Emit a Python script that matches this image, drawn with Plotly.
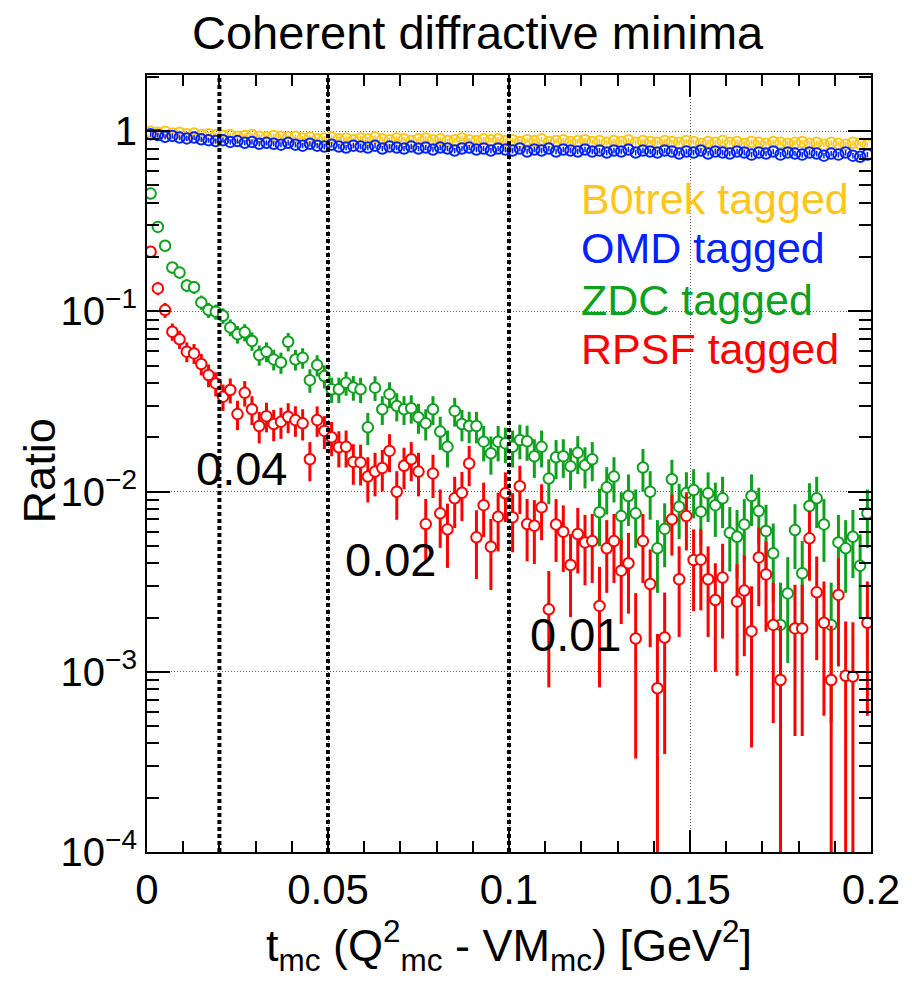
import math
import plotly.graph_objects as go

# ---------------- data ----------------
t_lo, t_hi, n_bins = 0.0, 0.2, 100
bin_w = (t_hi - t_lo) / n_bins
t_centers = [round(t_lo + (i + 0.5) * bin_w, 4) for i in range(n_bins)]

b0_ratio = [
    0.99, 0.98, 0.99, 0.97, 0.98, 0.96, 0.97, 0.95, 0.96, 0.95,
    0.94, 0.95, 0.93, 0.94, 0.95, 0.93, 0.92, 0.94, 0.93, 0.92,
    0.93, 0.91, 0.92, 0.90, 0.91, 0.92, 0.90, 0.91, 0.89, 0.91,
    0.90, 0.92, 0.90, 0.89, 0.91, 0.90, 0.88, 0.90, 0.91, 0.89,
    0.90, 0.88, 0.89, 0.91, 0.89, 0.88, 0.90, 0.89, 0.90, 0.88,
    0.89, 0.87, 0.89, 0.88, 0.90, 0.87, 0.88, 0.89, 0.87, 0.88,
    0.89, 0.87, 0.88, 0.86, 0.88, 0.87, 0.89, 0.86, 0.88, 0.87,
    0.86, 0.88, 0.87, 0.86, 0.88, 0.87, 0.85, 0.87, 0.86, 0.88,
    0.86, 0.87, 0.85, 0.87, 0.86, 0.85, 0.87, 0.86, 0.85, 0.86,
    0.87, 0.85, 0.86, 0.84, 0.86, 0.85, 0.84, 0.86, 0.85, 0.84,
]
b0_err = [
    0.030, 0.030, 0.030, 0.030, 0.030, 0.030, 0.030, 0.030, 0.030, 0.030,
    0.030, 0.030, 0.029, 0.029, 0.029, 0.029, 0.029, 0.029, 0.029, 0.029,
    0.029, 0.029, 0.029, 0.029, 0.029, 0.029, 0.029, 0.029, 0.029, 0.029,
    0.029, 0.029, 0.029, 0.029, 0.029, 0.029, 0.029, 0.029, 0.029, 0.029,
    0.029, 0.029, 0.029, 0.029, 0.029, 0.029, 0.029, 0.029, 0.029, 0.029,
    0.029, 0.028, 0.029, 0.029, 0.029, 0.028, 0.029, 0.029, 0.028, 0.029,
    0.029, 0.028, 0.029, 0.028, 0.029, 0.028, 0.029, 0.028, 0.029, 0.028,
    0.028, 0.029, 0.028, 0.028, 0.029, 0.028, 0.028, 0.028, 0.028, 0.029,
    0.028, 0.028, 0.028, 0.028, 0.028, 0.028, 0.028, 0.028, 0.028, 0.028,
    0.028, 0.028, 0.028, 0.028, 0.028, 0.028, 0.028, 0.028, 0.028, 0.028,
]

omd_ratio = [
    0.96, 0.95, 0.93, 0.94, 0.92, 0.91, 0.92, 0.90, 0.89, 0.88,
    0.89, 0.87, 0.88, 0.86, 0.87, 0.85, 0.86, 0.85, 0.84, 0.86,
    0.84, 0.83, 0.85, 0.83, 0.82, 0.84, 0.82, 0.81, 0.83, 0.82,
    0.81, 0.83, 0.80, 0.82, 0.81, 0.80, 0.82, 0.80, 0.81, 0.79,
    0.81, 0.80, 0.78, 0.80, 0.81, 0.79, 0.80, 0.78, 0.80, 0.79,
    0.78, 0.80, 0.77, 0.79, 0.78, 0.80, 0.77, 0.79, 0.78, 0.77,
    0.79, 0.77, 0.78, 0.76, 0.78, 0.77, 0.79, 0.76, 0.78, 0.77,
    0.76, 0.78, 0.77, 0.75, 0.77, 0.76, 0.78, 0.75, 0.77, 0.76,
    0.75, 0.77, 0.76, 0.74, 0.76, 0.75, 0.77, 0.74, 0.76, 0.75,
    0.74, 0.76, 0.75, 0.73, 0.75, 0.74, 0.76, 0.73, 0.72, 0.74,
]
omd_err = [
    0.030, 0.030, 0.029, 0.029, 0.029, 0.029, 0.029, 0.029, 0.029, 0.029,
    0.029, 0.028, 0.029, 0.028, 0.028, 0.028, 0.028, 0.028, 0.028, 0.028,
    0.028, 0.028, 0.028, 0.028, 0.028, 0.028, 0.028, 0.027, 0.028, 0.028,
    0.027, 0.028, 0.027, 0.028, 0.027, 0.027, 0.028, 0.027, 0.027, 0.027,
    0.027, 0.027, 0.027, 0.027, 0.027, 0.027, 0.027, 0.027, 0.027, 0.027,
    0.027, 0.027, 0.027, 0.027, 0.027, 0.027, 0.027, 0.027, 0.027, 0.027,
    0.027, 0.027, 0.027, 0.027, 0.027, 0.027, 0.027, 0.027, 0.027, 0.027,
    0.027, 0.027, 0.027, 0.026, 0.027, 0.027, 0.027, 0.026, 0.027, 0.027,
    0.026, 0.027, 0.027, 0.026, 0.027, 0.026, 0.027, 0.026, 0.027, 0.026,
    0.026, 0.027, 0.026, 0.026, 0.026, 0.026, 0.027, 0.026, 0.026, 0.026,
]

zdc_ratio = [
    0.45, 0.294, 0.231, 0.175, 0.164, 0.139, 0.136, 0.112, 0.1016, 0.0994,
    0.0945, 0.0814, 0.0745, 0.0764, 0.0684, 0.0572, 0.0597, 0.0541, 0.052, 0.0678,
    0.054, 0.0552, 0.0415, 0.0503, 0.0437, 0.0369, 0.0369, 0.0401, 0.0378, 0.0369,
    0.0227, 0.0377, 0.0286, 0.0347, 0.0298, 0.0286, 0.029, 0.0258, 0.0239, 0.0286,
    0.0215, 0.0177, 0.028, 0.0237, 0.0231, 0.0231, 0.0189, 0.0163, 0.0189, 0.0185,
    0.0177, 0.0193, 0.019, 0.0157, 0.0177, 0.0118, 0.0155, 0.0157, 0.0138, 0.0164,
    0.014, 0.0151, 0.00767, 0.01055, 0.0121, 0.00731, 0.00944, 0.00757, 0.0136, 0.00997,
    0.00484, 0.0062, 0.0117, 0.00824, 0.0098, 0.0102, 0.00773, 0.00977, 0.0084, 0.00917,
    0.0059, 0.00561, 0.00657, 0.00944, 0.0078, 0.00604, 0.00454, 0.00182, 0.00272, 0.00611,
    0.00352, 0.00831, 0.00917, 0.00657, 0.00182, 0.00522, 0.00484, 0.00561, 0.00388, 0.00757,
]
zdc_err = [
    0.0205, 0.0165, 0.0147, 0.0128, 0.0123, 0.0114, 0.0112, 0.0102, 0.0097, 0.0096,
    0.0094, 0.0087, 0.0083, 0.0084, 0.0080, 0.0073, 0.0075, 0.0071, 0.0070, 0.0079,
    0.0071, 0.0072, 0.0062, 0.0068, 0.0064, 0.0059, 0.0059, 0.0061, 0.0059, 0.0059,
    0.0046, 0.0059, 0.0052, 0.0057, 0.0053, 0.0052, 0.0052, 0.0049, 0.0047, 0.0052,
    0.0045, 0.0041, 0.0051, 0.0047, 0.0046, 0.0046, 0.0042, 0.0039, 0.0042, 0.0041,
    0.0041, 0.0042, 0.0042, 0.0038, 0.0041, 0.0033, 0.0038, 0.0038, 0.0036, 0.0039,
    0.0036, 0.0037, 0.0027, 0.0031, 0.0034, 0.0026, 0.0030, 0.0027, 0.0036, 0.0030,
    0.0021, 0.0024, 0.0033, 0.0028, 0.0030, 0.0031, 0.0027, 0.0030, 0.0028, 0.0029,
    0.0023, 0.0023, 0.0025, 0.0030, 0.0027, 0.0024, 0.0021, 0.0013, 0.0016, 0.0024,
    0.0018, 0.0028, 0.0029, 0.0025, 0.0013, 0.0022, 0.0021, 0.0023, 0.0019, 0.0027,
]

rpsf_ratio = [
    0.214, 0.134, 0.1016, 0.077, 0.0699, 0.0597, 0.0584, 0.051, 0.0443, 0.0398,
    0.0336, 0.0366, 0.0269, 0.0353, 0.0286, 0.0231, 0.0262, 0.0237, 0.0244, 0.026,
    0.0249, 0.0239, 0.0151, 0.0249, 0.0217, 0.020, 0.0176, 0.0177, 0.0146, 0.0145,
    0.0121, 0.0129, 0.0135, 0.0168, 0.00997, 0.0139, 0.0151, 0.0129, 0.0066, 0.0126,
    0.00757, 0.00617, 0.00917, 0.00985, 0.0143, 0.00557, 0.0084, 0.00494, 0.00725, 0.00977,
    0.0072, 0.0107, 0.0066, 0.00646, 0.00817, 0.00222, 0.00657, 0.00598, 0.00391, 0.00581,
    0.00522, 0.00531, 0.00232, 0.00484, 0.00531, 0.00364, 0.004, 0.00153, 0.00531, 0.00307,
    0.00081, 0.00155, 0.00701, 0.00326, 0.00731, 0.00417, 0.00419, 0.00326, 0.0025, 0.00333,
    None, 0.00245, 0.00282, 0.00168, 0.00431, 0.00347, 0.00182, 0.0009, None, 0.00174,
    0.00174, 0.0055, 0.00276, 0.00187, 0.0009, 0.00267, 0.00095, 0.00094, None, 0.00187,
]
rpsf_err = [
    0.0141, 0.0112, 0.0097, 0.0085, 0.0081, 0.0075, 0.0074, 0.0069, 0.0064, 0.0061,
    0.0056, 0.0058, 0.0050, 0.0057, 0.0052, 0.0046, 0.0049, 0.0047, 0.0048, 0.0049,
    0.0048, 0.0047, 0.0037, 0.0048, 0.0045, 0.0043, 0.0040, 0.0041, 0.0037, 0.0037,
    0.0034, 0.0035, 0.0035, 0.0040, 0.0030, 0.0036, 0.0037, 0.0035, 0.0025, 0.0034,
    0.0027, 0.0024, 0.0029, 0.0030, 0.0036, 0.0023, 0.0028, 0.0021, 0.0026, 0.0030,
    0.0026, 0.0032, 0.0025, 0.0025, 0.0028, 0.0014, 0.0025, 0.0024, 0.0019, 0.0023,
    0.0022, 0.0022, 0.0015, 0.0021, 0.0022, 0.0018, 0.0019, 0.0012, 0.0022, 0.0017,
    0.00081, 0.0012, 0.0026, 0.0017, 0.0026, 0.0020, 0.0020, 0.0017, 0.0015, 0.0018,
    0.0, 0.0015, 0.0016, 0.0013, 0.0020, 0.0018, 0.0013, 0.0009, 0.0, 0.0013,
    0.0013, 0.0023, 0.0016, 0.0013, 0.0009, 0.0016, 0.00095, 0.00094, 0.0, 0.0013,
]

series_names = ["B0trek tagged", "OMD tagged", "ZDC tagged", "RPSF tagged"]
series_colors = ["#FFC61A", "#0022FF", "#10A020", "#FF0000"]

minima_t = [0.02, 0.05, 0.1]
minima_labels = ["0.04", "0.02", "0.01"]
minima_label_t = [0.026, 0.0672, 0.1185]
minima_label_ratio = [0.0135, 0.0042, 0.0016]

y_tickvals = [1e-4, 1e-3, 1e-2, 1e-1, 1]
y_ticktext = ["10<sup>\u22124</sup>", "10<sup>\u22123</sup>", "10<sup>\u22122</sup>",
              "10<sup>\u22121</sup>", "1"]
x_tickvals = [0, 0.05, 0.1, 0.15, 0.2]
x_ticktext = ["0", "0.05", "0.1", "0.15", "0.2"]

FONT = "Liberation Sans, Arial, Helvetica, sans-serif"

# ---------------- figure ----------------
fig = go.Figure()

all_vals = [b0_ratio, omd_ratio, zdc_ratio, rpsf_ratio]
all_errs = [b0_err, omd_err, zdc_err, rpsf_err]
for k, (vals, errs) in enumerate(zip(all_vals, all_errs)):
    col = series_colors[k]
    hollow = k < 2
    fig.add_trace(go.Scatter(
        x=t_centers, y=vals, mode="markers", name=series_names[k],
        marker=dict(symbol="circle-open" if hollow else "circle",
                    size=10.5, color="white" if not hollow else col,
                    line=dict(color=col, width=2)),
        error_y=dict(type="data", array=errs, visible=True, color=col,
                     thickness=1.5 if hollow else 3, width=0),
        showlegend=False,
    ))

for tv in minima_t:
    fig.add_shape(type="line", xref="x", yref="paper", x0=tv, x1=tv, y0=0, y1=1,
                  line=dict(color="black", width=4, dash="4px,3px"), layer="above")

for lab, tx, ty in zip(minima_labels, minima_label_t, minima_label_ratio):
    fig.add_annotation(x=tx, y=math.log10(ty), xref="x", yref="y",
                       text=lab, showarrow=False, xanchor="center", yanchor="middle",
                       font=dict(family=FONT, size=47, color="black"))

legend_y = [0.840, 0.777, 0.710, 0.647]
for name, col, ly in zip(series_names, series_colors, legend_y):
    fig.add_annotation(x=0.597, y=ly, xref="paper", yref="paper", text=name,
                       showarrow=False, xanchor="left", yanchor="middle",
                       font=dict(family=FONT, size=43, color=col))

fig.add_annotation(x=0.4577, y=1.055, xref="paper", yref="paper",
                   text="Coherent diffractive minima", showarrow=False,
                   xanchor="center", yanchor="middle",
                   font=dict(family=FONT, size=47, color="black"))

fig.add_annotation(x=-0.149, y=0.49, xref="paper", yref="paper",
                   text="Ratio", showarrow=False, textangle=-90,
                   xanchor="center", yanchor="middle",
                   font=dict(family=FONT, size=45, color="black"))

fig.update_layout(
    width=912, height=986,
    margin=dict(l=147, r=33, t=75, b=134),
    paper_bgcolor="white", plot_bgcolor="white",
    font=dict(family=FONT, size=42, color="black"),
)

fig.update_xaxes(
    range=[0, 0.2], tickvals=x_tickvals, ticktext=x_ticktext,
    ticks="inside", ticklen=22, tickwidth=2, tickcolor="black",
    showline=True, linecolor="black", linewidth=2, mirror="ticks",
    showgrid=True, gridcolor="#666666", gridwidth=1, griddash="1px,2px",
    zeroline=False,
    minor=dict(dtick=0.01, ticks="inside", ticklen=11, tickwidth=2,
               tickcolor="black", showgrid=False),
    tickfont=dict(family=FONT, size=42),
    title=dict(text="t<sub>mc</sub> (Q<sup>2</sup><sub>mc</sub> - VM<sub>mc</sub>) [GeV<sup>2</sup>]",
               font=dict(family=FONT, size=45), standoff=16),
)
fig.update_yaxes(
    type="log", range=[-4, 0.311], tickvals=y_tickvals, ticktext=y_ticktext,
    ticks="inside", ticklen=23, tickwidth=2, tickcolor="black",
    showline=True, linecolor="black", linewidth=2, mirror="ticks",
    showgrid=True, gridcolor="#666666", gridwidth=1, griddash="1px,2px",
    zeroline=False,
    minor=dict(dtick="D1", ticks="inside", ticklen=12, tickwidth=2,
               tickcolor="black", showgrid=False),
    tickfont=dict(family=FONT, size=40),
)

fig.write_html("out.html")
